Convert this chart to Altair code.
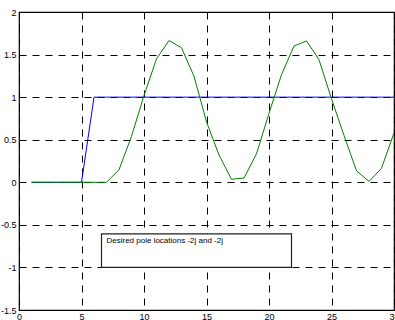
import altair as alt
import pandas as pd

# Data
x_vals = list(range(1, 31))
blue_y = [0, 0, 0, 0, 0] + [1] * 25
green_y = [0, 0, 0, 0, 0, 0, 0, 0.147, 0.54, 1.02, 1.45, 1.665, 1.58, 1.245, 0.71,
           0.32, 0.035, 0.05, 0.335, 0.81, 1.265, 1.6, 1.66, 1.44, 0.98,
           0.55, 0.135, 0.01, 0.165, 0.58]
x_ticks = [0, 5, 10, 15, 20, 25, 30]
y_ticks = [-1.5, -1, -0.5, 0, 0.5, 1, 1.5, 2]
note_text = ["Desired pole locations -2j and -2j"]
note_box = {"x": [6.6], "x2": [21.8], "y": [-0.605], "y2": [-1.0]}
note_pos = {"x": [7.0], "y": [-0.69]}

df = pd.DataFrame({"x": x_vals, "blue": blue_y, "green": green_y})
box_df = pd.DataFrame(note_box)
txt_df = pd.DataFrame({"x": note_pos["x"], "y": note_pos["y"], "t": note_text})

xs = alt.Scale(domain=[0, 30], nice=False, zero=False)
ys = alt.Scale(domain=[-1.5, 2], nice=False, zero=False)

FONT = "Liberation Sans"

x_axis = alt.Axis(values=x_ticks, grid=True, gridDash=[7, 6], gridColor="black",
                  gridOpacity=1, gridWidth=1, tickSize=0, domain=False,
                  labelFont=FONT, labelFontSize=9, labelColor="black",
                  labelPadding=2, labelOverlap=False, labelBound=False,
                  labelFlush=False, title=None, labelExpr="'' + datum.value")
y_axis = alt.Axis(values=y_ticks, grid=True, gridDash=[7, 6], gridColor="black",
                  gridOpacity=1, gridWidth=1, tickSize=0, domain=False,
                  labelFont=FONT, labelFontSize=9, labelColor="black",
                  labelPadding=3, labelOverlap=False, labelBound=False,
                  labelFlush=False, title=None, labelExpr="'' + datum.value")

base = alt.Chart(df)

blue = base.mark_line(color="#0000ff", strokeWidth=1).encode(
    x=alt.X("x:Q", scale=xs, axis=x_axis),
    y=alt.Y("blue:Q", scale=ys, axis=y_axis),
)
green = base.mark_line(color="#008000", strokeWidth=1).encode(
    x=alt.X("x:Q", scale=xs),
    y=alt.Y("green:Q", scale=ys),
)

box = alt.Chart(box_df).mark_rect(fill="white", stroke="#222222", strokeWidth=1.2).encode(
    x=alt.X("x:Q", scale=xs), x2="x2:Q",
    y=alt.Y("y:Q", scale=ys), y2="y2:Q",
)
txt = alt.Chart(txt_df).mark_text(align="left", baseline="middle", font=FONT,
                                   fontSize=8, color="black").encode(
    x=alt.X("x:Q", scale=xs),
    y=alt.Y("y:Q", scale=ys),
    text="t:N",
)

chart = alt.layer(blue, green, box, txt).properties(
    width=375, height=298,
    autosize=alt.AutoSizeParams(type="none"),
    padding={"left": 19, "top": 12, "right": 1, "bottom": 10},
    background="white",
).configure_view(stroke="black", strokeWidth=1.2)

chart.save("out.html", embed_options={"renderer": "svg", "actions": False})
